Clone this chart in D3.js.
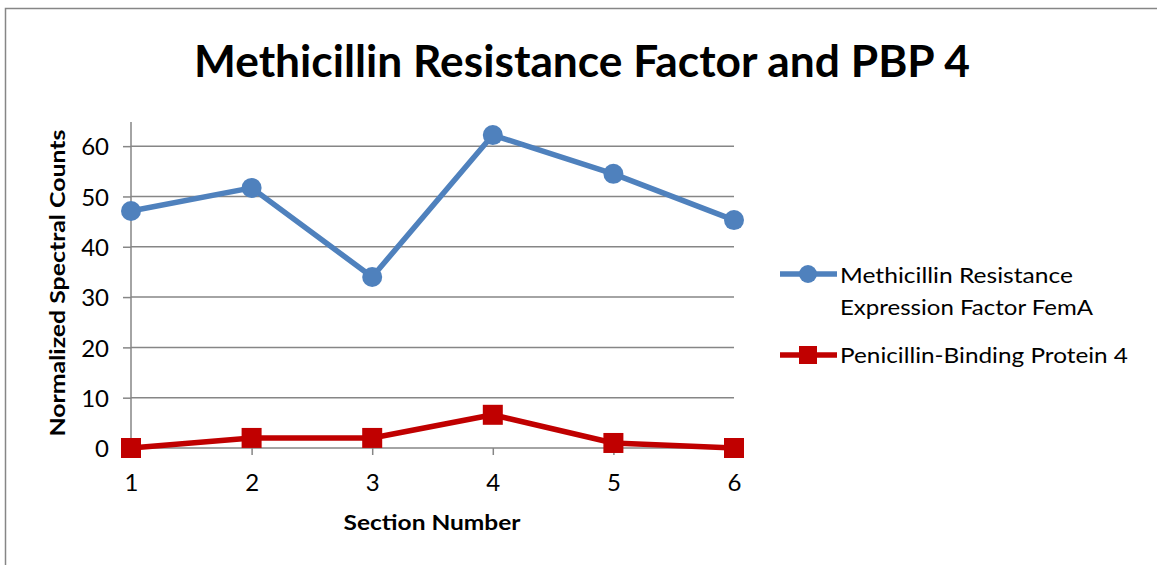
<!DOCTYPE html>
<html>
<head>
<meta charset="utf-8">
<script src="https://cdn.jsdelivr.net/npm/d3@7"></script>
<style>
  body { margin: 0; background: #fff; }
  svg { display: block; font-family: Lato, "Open Sans", sans-serif; }
</style>
</head>
<body>
<div id="chart"></div>
<script>
const sections = [1, 2, 3, 4, 5, 6];
const femA = [47.1, 51.7, 34.0, 62.2, 54.5, 45.3];
const pbp4 = [0, 2.0, 2.0, 6.6, 1.0, 0];
const yTicks = [0, 10, 20, 30, 40, 50, 60];
const seriesNames = ['Methicillin Resistance|Expression Factor FemA', 'Penicillin-Binding Protein 4'];

const width = 1157, height = 565;
const plot = { left: 131, right: 734, top: 122, bottom: 448 };
const font = 'Lato, "Open Sans", sans-serif';

const svg = d3.select('#chart').append('svg')
  .attr('width', width)
  .attr('height', height);

// outer chart border (runs off right/bottom)
svg.append('rect')
  .attr('x', 5.5).attr('y', 8.5)
  .attr('width', 1300).attr('height', 700)
  .attr('fill', 'none')
  .attr('stroke', '#868686')
  .attr('stroke-width', 1.5);

const x = d3.scalePoint()
  .domain(sections)
  .range([plot.left, plot.right]);
const y = d3.scaleLinear()
  .domain([0, 64.8])
  .range([plot.bottom, plot.top]);

// gridlines
svg.append('g')
  .selectAll('line')
  .data(yTicks.filter(d => d > 0))
  .join('line')
    .attr('x1', plot.left).attr('x2', plot.right)
    .attr('y1', d => y(d)).attr('y2', d => y(d))
    .attr('stroke', '#868686')
    .attr('stroke-width', 1.5);

// y axis
const yAxis = d3.axisLeft(y).tickValues(yTicks).tickSize(8).tickPadding(14);
svg.append('g')
  .attr('transform', `translate(${plot.left},0)`)
  .call(yAxis)
  .call(g => g.select('.domain').attr('stroke', '#868686').attr('stroke-width', 1.5)
    .attr('d', `M0,${plot.top}V${plot.bottom}`))
  .call(g => g.selectAll('.tick line').attr('stroke', '#868686').attr('stroke-width', 1.5))
  .call(g => g.selectAll('.tick text').attr('font-size', 24).attr('fill', '#000')
    .attr('font-family', font).attr('dy', '0.36em'));

// x axis
const xAxis = d3.axisBottom(x).tickSize(7).tickPadding(19);
svg.append('g')
  .attr('transform', `translate(0,${plot.bottom})`)
  .call(xAxis)
  .call(g => g.select('.domain').attr('stroke', '#868686').attr('stroke-width', 1.5)
    .attr('d', `M${plot.left},0H${plot.right}`))
  .call(g => g.selectAll('.tick line').attr('stroke', '#868686').attr('stroke-width', 1.5))
  .call(g => g.selectAll('.tick text').attr('font-size', 24).attr('fill', '#000')
    .attr('font-family', font));

// title
svg.append('text')
  .attr('x', 582).attr('y', 77)
  .attr('text-anchor', 'middle')
  .attr('font-size', 43)
  .attr('font-weight', 'bold')
  .attr('textLength', 776)
  .attr('lengthAdjust', 'spacingAndGlyphs')
  .attr('fill', '#000')
  .text('Methicillin Resistance Factor and PBP 4');

// axis titles
svg.append('text')
  .attr('transform', `translate(65,${283}) rotate(-90)`)
  .attr('text-anchor', 'middle')
  .attr('font-size', 21)
  .attr('font-weight', 'bold')
  .attr('textLength', 307)
  .attr('lengthAdjust', 'spacingAndGlyphs')
  .text('Normalized Spectral Counts');
svg.append('text')
  .attr('x', 432).attr('y', 530)
  .attr('text-anchor', 'middle')
  .attr('font-size', 21)
  .attr('font-weight', 'bold')
  .attr('textLength', 177)
  .attr('lengthAdjust', 'spacingAndGlyphs')
  .text('Section Number');

const line = d3.line()
  .x((d, i) => x(sections[i]))
  .y(d => y(d));

// FemA series
svg.append('path')
  .datum(femA)
  .attr('d', line)
  .attr('fill', 'none')
  .attr('stroke', '#4f81bd')
  .attr('stroke-width', 5.5)
  .attr('stroke-linejoin', 'round');
svg.append('g')
  .selectAll('circle')
  .data(femA)
  .join('circle')
    .attr('cx', (d, i) => x(sections[i]))
    .attr('cy', d => y(d))
    .attr('r', 10)
    .attr('fill', '#4f81bd');

// PBP4 series
svg.append('path')
  .datum(pbp4)
  .attr('d', line)
  .attr('fill', 'none')
  .attr('stroke', '#c00000')
  .attr('stroke-width', 5.5)
  .attr('stroke-linejoin', 'round');
svg.append('g')
  .selectAll('rect')
  .data(pbp4)
  .join('rect')
    .attr('x', (d, i) => x(sections[i]) - 10)
    .attr('y', d => y(d) - 10)
    .attr('width', 20).attr('height', 20)
    .attr('fill', '#c00000');

// legend
const legend = svg.append('g');
legend.append('line')
  .attr('x1', 780).attr('x2', 837).attr('y1', 274).attr('y2', 274)
  .attr('stroke', '#4f81bd').attr('stroke-width', 5.5);
legend.append('circle')
  .attr('cx', 808).attr('cy', 274).attr('r', 9)
  .attr('fill', '#4f81bd');
const lbl1 = legend.append('text')
  .attr('font-size', 22);
const lines1 = seriesNames[0].split('|');
const lens1 = [233, 253];
lines1.forEach((s, i) => {
  lbl1.append('tspan').attr('x', 840).attr('y', 283 + i * 32)
    .attr('textLength', lens1[i]).attr('lengthAdjust', 'spacingAndGlyphs').text(s);
});
legend.append('line')
  .attr('x1', 780).attr('x2', 837).attr('y1', 355).attr('y2', 355)
  .attr('stroke', '#c00000').attr('stroke-width', 5.5);
legend.append('rect')
  .attr('x', 799).attr('y', 346).attr('width', 18).attr('height', 18)
  .attr('fill', '#c00000');
legend.append('text')
  .attr('x', 840).attr('y', 363)
  .attr('font-size', 22)
  .attr('textLength', 288)
  .attr('lengthAdjust', 'spacingAndGlyphs')
  .text(seriesNames[1]);
</script>
</body>
</html>
